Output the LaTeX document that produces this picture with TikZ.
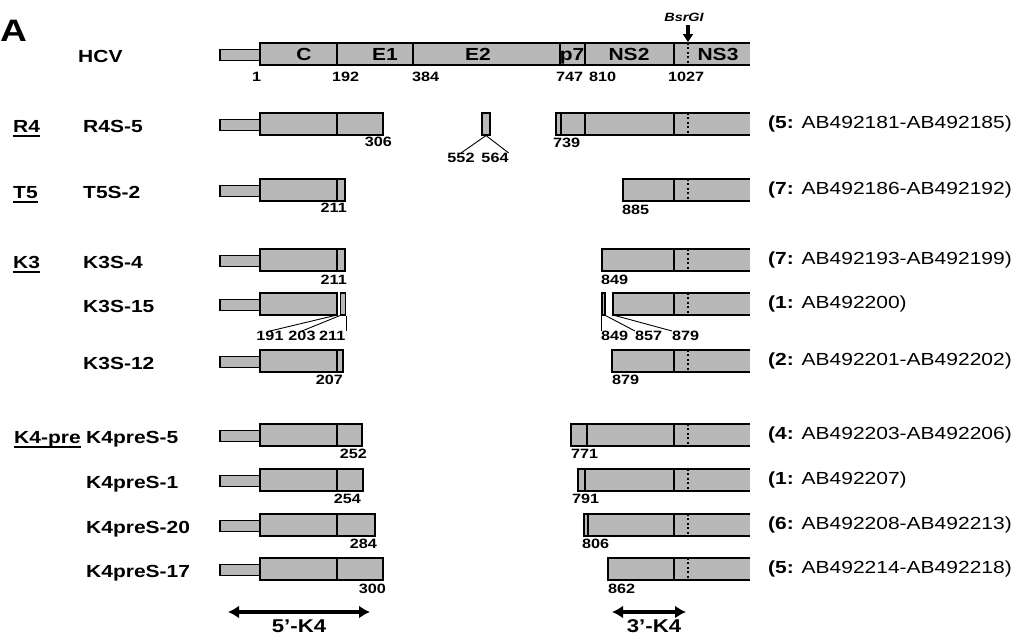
\documentclass[tikz,border=0pt]{standalone}
\usepackage{fontspec}
\setmainfont{Liberation Sans}[FakeStretch=1.2]
\usetikzlibrary{arrows.meta,positioning}
\newcommand{\namefont}{\fontsize{17.5}{19}\selectfont\bfseries}
\newcommand{\numfont}{\fontsize{13.5}{15}\selectfont\bfseries}
\newcommand{\accfont}{\fontsize{17.5}{19}\selectfont}
\newcommand{\grpul}[1]{\setbox0\hbox{#1}\rlap{\rule[-4.7pt]{\wd0}{1.5pt}}\box0}
\tikzset{
  seg/.style={draw=black, line width=1.5pt, fill=black!28},
  cut/.style={line width=1.5pt},
  bsr/.style={line width=2pt, dash pattern=on 2pt off 2.4pt},
  clone/.style={anchor=base west, inner sep=0pt, font=\namefont},
  dom/.style={anchor=base, inner sep=0pt, font=\namefont},
  num/.style={inner sep=0pt, font=\numfont},
  acc/.style={anchor=base west, inner sep=0pt, font=\accfont},
  frag/.style={seg, line width=1.1pt, minimum height=22pt, inner sep=0pt},
  link/.style={line width=0.9pt},
  site/.style={-{Triangle[length=8pt,width=10pt]}, line width=3.5pt},
  span/.style={{Latex[length=11pt,width=13pt]}-{Latex[length=11pt,width=13pt]}, line width=4.5pt},
  part/.style={anchor=base, inner sep=0pt, font=\fontsize{18.5}{20}\selectfont\bfseries},
}
% 5' part: UTR tail + core/E1 piece ending at #1, row at #2
\newcommand{\fivebar}[2]{%
  \draw[seg] (220,#2-4.5) rectangle (260,#2+6.5);
  \draw[seg] (260,#2-11) rectangle (#1,#2+11);
  \draw[cut] (337,#2-11) -- (337,#2+11);}
% 3' part: open-ended bar from #1, row at #2
\newcommand{\openbar}[2]{%
  \fill[black!28] (#1,#2-11) rectangle (750,#2+11);
  \draw[cut] (750,#2-11) -- (#1,#2-11) -- (#1,#2+11) -- (750,#2+11);
  \draw[cut] (674,#2-11) -- (674,#2+11);
  \draw[bsr] (688,#2-11) -- (688,#2+11);}

\begin{document}
\begin{tikzpicture}[x=1pt,y=-1pt]
\useasboundingbox (0,0) rectangle (1016,635);
\node[anchor=north west, inner sep=0pt, font=\fontsize{31}{33}\selectfont\bfseries] (panel) at (0,20) {A};

% HCV genome
\node[clone] (hcv) at (78,62) {HCV};
\fill[black!28] (260,43) rectangle (750,65);
\draw[cut] (750,43) -- (260,43) -- (260,65) -- (750,65);
\draw[seg] (220,49.5) rectangle (260,60.5);
\foreach \b in {337,413,560,585,674} \draw[cut] (\b,43) -- (\b,65);
\draw[bsr] (688,43) -- (688,65);
\node[dom] (dC) at (304,60) {C};
\node[dom] (dE1) at (385,60) {E1};
\node[dom] (dE2) at (478,60) {E2};
\node[dom] (dp7) at (572,60) {p7};
\node[dom] (dNS2) at (629,60) {NS2};
\node[dom] (dNS3) at (718,60) {NS3};
\node[num, anchor=north west] (h1) at (252,72) {1};
\node[num, anchor=north west] (h192) at (332,72) {192};
\node[num, anchor=north west] (h384) at (412,72) {384};
\node[num, anchor=north west] (h747) at (556,72) {747};
\node[num, anchor=north west] (h810) at (589,72) {810};
\node[num, anchor=north west] (h1027) at (668,72) {1027};
\node[inner sep=0pt, font=\fontsize{12}{13}\selectfont\bfseries\itshape] (bsr) at (684,17) {BsrGI};
\coordinate (bsrtop) at (688,25);
\coordinate (bsrtip) at (688,42);
\draw[site] (bsrtop) -- (bsrtip);

% R4
\node[clone] (gR4) at (13,132) {\grpul{R4}};
\node[clone] (r4s5) at (83,132) {R4S-5};
\fivebar{383}{124}
\node[num, anchor=north east] (n306) at (392,137) {306};
\node[frag, minimum width=8pt] (f552) at (486,124) {};
\node[num, anchor=north] (n552) at (461,153) {552};
\node[num, anchor=north] (n564) at (495,153) {564};
\draw[link] (f552.south) -- (n552.north);
\draw[link] (f552.south) -- (n564.north east);
\openbar{556}{124}
\draw[cut] (561,113) -- (561,135);
\draw[cut] (585,113) -- (585,135);
\node[num, anchor=north west] (n739) at (553,138) {739};
\node[acc] (a1) at (768,128) {\textbf{(5:} AB492181-AB492185)};

% T5
\node[clone] (gT5) at (13,198) {\grpul{T5}};
\node[clone] (t5s2) at (83,198) {T5S-2};
\fivebar{345}{190}
\node[num, anchor=north east] (n211a) at (347,203) {211};
\openbar{623}{190}
\node[num, anchor=north west] (n885) at (622,205) {885};
\node[acc] (a2) at (768,194) {\textbf{(7:} AB492186-AB492192)};

% K3
\node[clone] (gK3) at (13,268) {\grpul{K3}};
\node[clone] (k3s4) at (83,268) {K3S-4};
\fivebar{345}{260}
\node[num, anchor=north east] (n211b) at (347,275) {211};
\openbar{602}{260}
\node[num, anchor=north west] (n849a) at (601,275) {849};
\node[acc] (a3) at (768,264) {\textbf{(7:} AB492193-AB492199)};

\node[clone] (k3s15) at (83,312) {K3S-15};
\fivebar{337}{304}
\node[frag, minimum width=5pt] (f203) at (343,304) {};
\coordinate (c191) at (337,315);
\node[num, anchor=north] (n191) at (270,331) {191};
\node[num, anchor=north] (n203) at (302,331) {203};
\node[num, anchor=north west] (n211c) at (319,331) {211};
\draw[link] (c191) -- (n191.north);
\draw[link] (f203.south west) -- (n203.north);
\draw[link] (f203.south east) -- (f203.south east |- n211c.north);
\node[frag, minimum width=3pt] (f849) at (603.5,304) {};
\openbar{613}{304}
\coordinate (c879) at (613,315);
\node[num, anchor=north west] (n849b) at (601,331) {849};
\node[num, anchor=north west] (n857) at (635,331) {857};
\node[num, anchor=north west] (n879a) at (672,331) {879};
\draw[link] (f849.south west) -- (f849.south west |- n849b.north);
\draw[link] (f849.south east) -- (n857.north west);
\draw[link] (c879) -- (n879a.north west);
\node[acc] (a4) at (768,308) {\textbf{(1:} AB492200)};

\node[clone] (k3s12) at (83,369) {K3S-12};
\fivebar{343}{361}
\node[num, anchor=north east] (n207) at (343,375) {207};
\openbar{612}{361}
\node[num, anchor=north west] (n879b) at (612,375) {879};
\node[acc] (a5) at (768,365) {\textbf{(2:} AB492201-AB492202)};

% K4-pre
\node[clone] (gK4) at (14,443) {\grpul{K4-pre}};
\node[clone] (k4s5) at (86,443) {K4preS-5};
\fivebar{362}{435}
\node[num, anchor=north east] (n252) at (367,449) {252};
\openbar{571}{435}
\draw[cut] (587,424) -- (587,446);
\node[num, anchor=north west] (n771) at (571,449) {771};
\node[acc] (a6) at (768,439) {\textbf{(4:} AB492203-AB492206)};

\node[clone] (k4s1) at (86,488) {K4preS-1};
\fivebar{363}{480}
\node[num, anchor=north east] (n254) at (361,494) {254};
\openbar{578}{480}
\draw[cut] (585,469) -- (585,491);
\node[num, anchor=north west] (n791) at (572,494) {791};
\node[acc] (a7) at (768,484) {\textbf{(1:} AB492207)};

\node[clone] (k4s20) at (86,533) {K4preS-20};
\fivebar{375}{525}
\node[num, anchor=north east] (n284) at (377,539) {284};
\openbar{584}{525}
\draw[cut] (588,514) -- (588,536);
\node[num, anchor=north west] (n806) at (582,539) {806};
\node[acc] (a8) at (768,529) {\textbf{(6:} AB492208-AB492213)};

\node[clone] (k4s17) at (86,577) {K4preS-17};
\fivebar{383}{569}
\node[num, anchor=north east] (n300) at (386,584) {300};
\openbar{608}{569}
\node[num, anchor=north west] (n862) at (608,584) {862};
\node[acc] (a9) at (768,573) {\textbf{(5:} AB492214-AB492218)};

% K4 fragments
\coordinate (l5) at (228,612);
\coordinate (r5) at (370,612);
\draw[span] (l5) -- (r5);
\node[part] (k5) at (299,632) {5'-K4};
\coordinate (l3) at (612,612);
\coordinate (r3) at (686,612);
\draw[span] (l3) -- (r3);
\node[part] (k3) at (654,632) {3'-K4};
\end{tikzpicture}
\end{document}
